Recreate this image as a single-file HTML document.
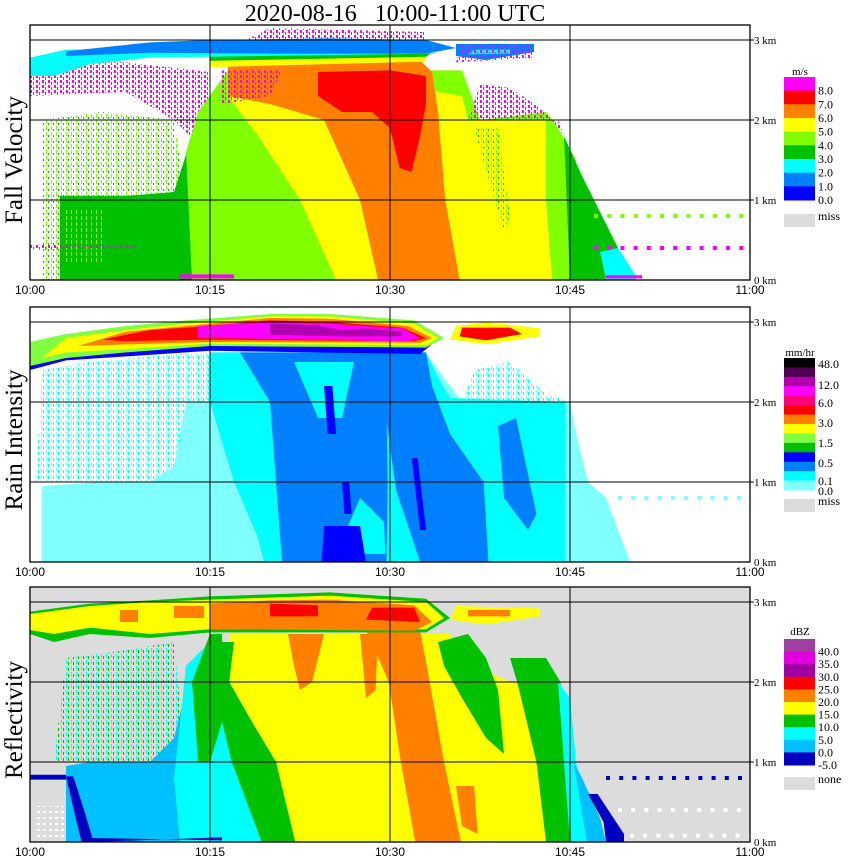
<!DOCTYPE html>
<html><head><meta charset="utf-8"><style>
html,body{margin:0;padding:0;background:#fff;}
svg{display:block;}
text{font-family:"Liberation Serif",serif;}
.tl{font-family:"Liberation Sans",sans-serif;font-size:12px;}
</style></head><body>
<svg id="chart" width="850" height="868" viewBox="0 0 850 868" xmlns="http://www.w3.org/2000/svg">
<defs>
<pattern id="spMag" width="6" height="5" patternUnits="userSpaceOnUse"><rect x="0" y="0" width="2" height="3" fill="#ff00ff"/><rect x="3" y="2" width="1" height="3" fill="#ff00ff"/></pattern>
<pattern id="spLg" width="5" height="6" patternUnits="userSpaceOnUse"><rect x="1" y="0" width="1" height="4" fill="#80ff00"/><rect x="3" y="3" width="1" height="2" fill="#00c000"/></pattern>
<pattern id="spLc" width="5" height="6" patternUnits="userSpaceOnUse"><rect x="1" y="0" width="1" height="4" fill="#80ffff"/><rect x="3" y="2" width="1" height="3" fill="#00ffff"/></pattern>
<pattern id="spCy" width="5" height="6" patternUnits="userSpaceOnUse"><rect x="1" y="0" width="1" height="4" fill="#00ffff"/><rect x="3" y="2" width="1" height="3" fill="#00c000"/></pattern>
<pattern id="spWh" width="6" height="6" patternUnits="userSpaceOnUse"><rect x="1" y="1" width="3" height="2" fill="#ffffff"/></pattern>
</defs>
<text x="395" y="21" text-anchor="middle" font-size="24" style="white-space:pre" xml:space="preserve">2020-08-16   10:00-11:00 UTC</text>
<g id="panels"></g>
</svg>
<script>
// ---------- data (time in minutes after 10:00, height in km) ----------
const timeTickLabels = ["10:00","10:15","10:30","10:45","11:00"];
const timeTickMinutes = [0,15,30,45,60];
const heightTickKm = [0,1,2,3];
const heightTickLabels = ["0 km","1 km","2 km","3 km"];

const fvColors = ["#ff00ff","#ff0000","#ff8000","#ffff00","#80ff00","#00c000","#00ffff","#0080ff","#0000ff"];
const fvLabels = ["8.0","7.0","6.0","5.0","4.0","3.0","2.0","1.0","0.0"];
const riColors = ["#000000","#500050","#b000b0","#ff00ff","#ff0080","#ff0000","#ff8000","#ffff00","#80ff40","#00c000","#0000ff","#0080ff","#00ffff","#80ffff"];
const riLabels = ["48.0","12.0","6.0","3.0","1.5","0.5","0.1","0.0"];
const riLabelY = [364,385,403,423,443,463,481,491];
const dbzColors = ["#a040a0","#e000e0","#a000a0","#ff0000","#ff8000","#ffff00","#00c000","#00ffff","#00c0ff","#0000c0"];
const dbzLabels = ["40.0","35.0","30.0","25.0","20.0","15.0","10.0","5.0","0.0","-5.0"];

const fallVelocityRegions = [
 {c:"url(#spMag)",p:[[0,2.3],[8,2.35],[12,2.0],[14,1.7],[15,1.9],[15,2.6],[8,2.72],[0,2.72]]},
 {c:"url(#spLg)",p:[[1,0],[1,2.0],[6,2.1],[12,2.0],[13,1.0],[13,0]]},
 {c:"#00c000",p:[[2.5,0],[2.5,1.05],[8,1.05],[12,1.1],[13.5,1.8],[15,2.0],[15,0]]},
 {c:"url(#spLg)",p:[[3,0.2],[3,0.9],[6,0.9],[6,0.2]]},
 {c:"#80ff00",p:[[13.5,0],[13,1.6],[14,2.1],[16.5,2.62],[36,2.62],[37.5,2.0],[43,2.1],[44,1.9],[45.5,1.5],[46,0]]},
 {c:"#00c000",p:[[44.5,1.8],[46,1.3],[47,1.0],[49,0.4],[50,0],[45,0]]},
 {c:"#00ffff",p:[[47.5,0.35],[49,0.4],[50.5,0.05],[50.5,0],[48,0]]},
 {c:"#ffff00",p:[[16.5,2.3],[18,2.5],[28,2.5],[36,2.3],[36.5,2.0],[43,2.0],[43,1.0],[43.5,0],[25.5,0],[22.5,1.0],[19,1.8]]},
 {c:"url(#spLg)",p:[[37,1.9],[39,1.9],[40,0.8],[39.5,0.6]]},
 {c:"#ff8000",p:[[16.5,2.68],[32.5,2.75],[33.5,2.6],[34,2.1],[34.6,1.0],[35.8,0],[29,0],[27.5,1.0],[24.5,2.0],[20,2.2],[16.5,2.3]]},
 {c:"#ff0000",p:[[24,2.6],[30,2.62],[33,2.55],[33,2.2],[32.5,1.8],[31.8,1.35],[30.8,1.4],[30,1.9],[28.5,2.1],[26,2.1],[24,2.3]]},
 {c:"url(#spMag)",p:[[16,2.2],[16,2.62],[21,2.62],[20,2.3]]},
 {c:"#ffff00",p:[[15,2.66],[33,2.73],[33,2.8],[15,2.75]]},
 {c:"#00c000",p:[[15,2.74],[33,2.79],[33.5,2.84],[15,2.8]]},
 {c:"#00ffff",p:[[0,2.55],[0,2.78],[3,2.88],[10,2.88],[15,2.86],[33,2.86],[34,2.83],[15,2.79],[10,2.78],[5,2.7],[2,2.55]]},
 {c:"#0080ff",p:[[3,2.86],[10,2.97],[15,3.0],[25,3.02],[33,3.0],[35.5,2.9],[33,2.83],[20,2.83],[10,2.84],[3,2.8]]},
 {c:"url(#spMag)",p:[[18,3.0],[20,3.15],[33,3.1],[33,3.0]]},
 {c:"#0080ff",p:[[35.5,2.8],[35.5,2.95],[42,2.95],[42,2.85],[38,2.75]]},
 {c:"#00ffff",p:[[36.5,2.82],[37,2.88],[40,2.88],[40,2.83]]},
 {c:"url(#spMag)",p:[[35.5,2.72],[36,2.95],[42,2.95],[42,2.78]]},
 {c:"url(#spMag)",p:[[36.5,2.0],[37.5,2.45],[40,2.4],[43,2.1],[44.5,1.8],[44,2.0]]},
 {c:"url(#spMag)",p:[[0,0.38],[9,0.38],[9,0.44],[0,0.44]]},
 {c:"#ff00ff",p:[[12.5,0.02],[17,0.02],[17,0.07],[12.5,0.07]]},
 {c:"#ff00ff",p:[[48,0.02],[51,0.02],[51,0.06],[48,0.06]]}
];
const fvDotRows = [{h:0.8,t0:47,t1:60,c:"#80ff00"},{h:0.4,t0:47,t1:60,c:"#ff00ff"}];

const rainIntensityRegions = [
 {c:"url(#spLc)",p:[[0.5,1.0],[1,2.4],[5,2.5],[12,2.6],[15,2.6],[15,1.0]]},
 {c:"#80ffff",p:[[1,0],[1,0.95],[6,1.0],[10,1.0],[12,1.2],[13,2.0],[15,2.0],[15,2.6],[33,2.6],[35,2.2],[36,2.0],[45,2.0],[45.5,1.6],[46.5,1.0],[48,0.8],[49.5,0.2],[50,0]]},
 {c:"#00ffff",p:[[15,2.62],[33,2.62],[34,2.3],[35,2.05],[44.6,2.0],[44.6,0],[19.5,0],[19,0.3],[17,1.0],[15,2.0]]},
 {c:"url(#spLc)",p:[[36,2.0],[37,2.4],[40,2.5],[43,2.1],[45,2.0]]},
 {c:"#0080ff",p:[[17.5,2.62],[29.5,2.62],[29.7,2.0],[29.8,1.0],[29.7,0],[21,0],[20.5,1.0],[20,2.0]]},
 {c:"#00ffff",p:[[22,2.5],[27,2.5],[26,1.8],[24,1.8]]},
 {c:"#00ffff",p:[[25.5,0.1],[27.5,0.8],[29.5,0.5],[29.6,0.1]]},
 {c:"#0080ff",p:[[29.5,2.62],[33,2.62],[33.5,2.2],[35,1.6],[37.8,1.0],[38.2,0],[32.5,0],[30.5,0.9],[29.5,2.0]]},
 {c:"#0080ff",p:[[39,1.7],[40.5,1.8],[42.2,0.6],[41.5,0.4],[39.5,0.8]]},
 {c:"#0000ff",p:[[24.5,2.2],[25.2,2.2],[25.5,1.6],[24.8,1.6]]},
 {c:"#0000ff",p:[[26,1.0],[26.6,1.0],[26.8,0.6],[26.2,0.6]]},
 {c:"#0000ff",p:[[24.5,0.45],[27.5,0.45],[28,0],[24.3,0]]},
 {c:"#0000ff",p:[[31.8,1.3],[32.3,1.3],[33,0.4],[32.5,0.4]]},
 {c:"#0000ff",p:[[0,2.4],[3,2.52],[15,2.64],[32.5,2.6],[33.5,2.72],[15,2.72],[3,2.6],[0,2.5]]},
 {c:"#80ff40",p:[[0,2.45],[0,2.75],[3,2.85],[8,2.95],[13,3.02],[20,3.1],[25,3.1],[32,3.02],[34.5,2.8],[33,2.68],[15,2.7],[8,2.62],[3,2.55]]},
 {c:"#ffff00",p:[[1,2.55],[3,2.8],[8,2.9],[13,2.98],[20,3.07],[25,3.07],[32,2.98],[34,2.8],[33,2.71],[15,2.73],[8,2.66],[3,2.62]]},
 {c:"#ff8000",p:[[4,2.7],[8,2.88],[13,2.95],[20,3.05],[25,3.04],[31.5,2.95],[33.5,2.8],[32.5,2.74],[15,2.75],[8,2.72]]},
 {c:"#ff0000",p:[[6,2.78],[10,2.9],[15,2.95],[20,3.02],[25,3.0],[31,2.93],[33,2.8],[32,2.76],[15,2.78],[8,2.76]]},
 {c:"#ff00ff",p:[[14,2.8],[14,2.95],[20,3.0],[25,2.98],[31,2.92],[32.5,2.8],[31.5,2.76],[15,2.8]]},
 {c:"#b000b0",p:[[20,2.84],[20,2.98],[24,2.96],[26,2.9],[28,2.92],[31,2.88],[31,2.82],[26,2.82]]},
 {c:"#ffff00",p:[[35,2.78],[35.5,2.95],[38,3.0],[42.5,2.92],[42.5,2.82],[38,2.72]]},
 {c:"#ff0000",p:[[35.8,2.82],[36,2.93],[40,2.93],[41,2.85],[38,2.77]]}
];
const riDotRows = [{h:0.8,t0:49,t1:60,c:"#80ffff"}];

const reflectivityRegions = [
 {c:"url(#spWh)",p:[[0.5,0],[0.5,0.45],[3.5,0.45],[4,0]]},
 {c:"url(#spCy)",p:[[2,1.0],[3,2.3],[8,2.4],[12,2.5],[13,1.0]]},
 {c:"#00c0ff",p:[[3,0],[3,0.95],[5,1.0],[10,1.0],[12,1.3],[13,1.9],[15,2.2],[15,0]]},
 {c:"#00ffff",p:[[12.5,0],[12,0.8],[12.5,1.5],[13,2.2],[15,2.5],[16.5,2.0],[17.5,1.0],[19.6,0]]},
 {c:"#00c000",p:[[14,1.0],[13.5,2.0],[15,2.6],[16,2.6],[16,1.5],[15,1.0]]},
 {c:"#ffff00",p:[[16.6,2.6],[35,2.6],[37,2.2],[40,2.0],[43.5,2.0],[44.5,1.0],[45.2,0],[22.1,0],[20.5,1.0],[18.5,1.5],[16.6,2.0]]},
 {c:"#00c000",p:[[15,2.5],[17,2.5],[16.6,2.0],[18.5,1.5],[20.5,1.0],[22.1,0],[19.3,0],[16.8,1.0],[15.2,2.0]]},
 {c:"#ff8000",p:[[28,2.65],[32.5,2.65],[33.3,2.0],[34.5,1.0],[35.9,0],[32.1,0],[30.9,1.0],[29.9,2.0]]},
 {c:"#ff8000",p:[[21.5,2.6],[24.5,2.6],[23.5,2.0],[22.5,1.9],[22,2.2]]},
 {c:"#ff8000",p:[[27.5,2.6],[29,2.6],[28.8,1.9],[28,1.8]]},
 {c:"#ff8000",p:[[35.5,0.7],[37,0.7],[37.3,0.1],[36,0.2]]},
 {c:"#00c000",p:[[34,2.5],[36.5,2.6],[38,2.3],[39,1.9],[39.5,1.1],[38,1.3],[36,1.8],[34.5,2.2]]},
 {c:"#00c000",p:[[40,2.3],[43,2.3],[44.2,2.0],[44.6,1.0],[45,0],[43,0],[42.2,1.0],[40.6,2.0]]},
 {c:"#00ffff",p:[[44,2.0],[45,1.8],[45.5,1.0],[46.7,0],[45,0]]},
 {c:"#00c0ff",p:[[45.3,1.0],[46,0.8],[47.5,0.3],[48,0],[46.4,0]]},
 {c:"#0000c0",p:[[46.5,0.6],[47.3,0.6],[49.5,0.1],[49.5,0],[48,0],[47.8,0.25]]},
 {c:"#0000c0",p:[[3,0.82],[3.6,0.82],[4.5,0.4],[5.2,0.05],[16,0.02],[16,0.06],[5.2,0],[4.3,0],[3.8,0.3]]},
 {c:"#0000c0",p:[[0,0.78],[3,0.78],[3,0.84],[0,0.84]]},
 {c:"url(#spCy)",p:[[3,1.0],[3,1.35],[8,1.3],[10,1.0]]},
 {c:"#00c000",p:[[0,2.6],[0,2.88],[5,2.98],[10,3.02],[15,3.07],[25,3.12],[33,3.04],[35,2.8],[33,2.62],[15,2.62],[10,2.55],[5,2.6],[2,2.5]]},
 {c:"#ffff00",p:[[0,2.65],[0,2.85],[5,2.95],[10,3.0],[15,3.03],[25,3.08],[33,3.0],[34.5,2.8],[33,2.66],[15,2.66],[10,2.6],[5,2.68],[2,2.6]]},
 {c:"#ff8000",p:[[15,2.66],[15,2.98],[20,3.02],[25,3.03],[32,2.96],[33.5,2.75],[32,2.64]]},
 {c:"#ff8000",p:[[7.5,2.75],[7.5,2.9],[9,2.9],[9,2.75]]},
 {c:"#ff8000",p:[[12,2.8],[12,2.95],[14.5,2.95],[14.5,2.8]]},
 {c:"#ff0000",p:[[20,2.82],[20,2.98],[24,2.96],[24,2.82]]},
 {c:"#ff0000",p:[[28,2.78],[28.5,2.93],[32,2.93],[32.5,2.75]]},
 {c:"#ffff00",p:[[35,2.78],[35.5,2.95],[42.5,2.92],[42.5,2.82],[38,2.72]]},
 {c:"#ff8000",p:[[36.5,2.82],[36.5,2.9],[40,2.9],[40,2.82]]}
];
const dbzDotRows = [{h:0.8,t0:48,t1:60,c:"#0000c0"},{h:0.4,t0:49,t1:60,c:"#ffffff"},{h:0.08,t0:50,t1:60,c:"#ffffff"}];

// ---------- layout ----------
const panels = [
 {name:"fall-velocity",title:"Fall Velocity",top:25,bg:"#ffffff",regions:fallVelocityRegions,dots:fvDotRows,titleY:160},
 {name:"rain-intensity",title:"Rain Intensity",top:307,bg:"#ffffff",regions:rainIntensityRegions,dots:riDotRows,titleY:440},
 {name:"reflectivity",title:"Reflectivity",top:587,bg:"#dcdcdc",regions:reflectivityRegions,dots:dbzDotRows,titleY:720}
];
const X0=30, X1=750, PH=255, KM=80;
function xs(t){return X0+t*(X1-X0)/60;}
const NS="http://www.w3.org/2000/svg";
const root=document.getElementById("panels");
function mk(tag,attrs,parent){const e=document.createElementNS(NS,tag);for(const k in attrs)e.setAttribute(k,attrs[k]);(parent||root).appendChild(e);return e;}

panels.forEach(function(P){
 const bottom=P.top+PH;
 function ys(h){return bottom-h*KM;}
 const g=mk("g",{});
 
 
 const clipId="clip-"+P.name;
 const cp=mk("clipPath",{id:clipId},g);
 mk("rect",{x:X0,y:P.top,width:X1-X0,height:PH},cp);
 const bg=mk("rect",{x:X0,y:P.top,width:X1-X0,height:PH,fill:P.bg},g);
 
 
 const dg=mk("g",{"clip-path":"url(#"+clipId+")"},g);
 P.regions.forEach(function(r,i){
  const pg=mk("polygon",{points:r.p.map(q=>xs(q[0]).toFixed(1)+","+ys(q[1]).toFixed(1)).join(" "),fill:r.c},dg);
  
  
 });
 P.dots.forEach(function(d){
  for(let t=d.t0;t<d.t1;t+=1.1){
   const rr=mk("rect",{x:xs(t),y:ys(d.h)-2,width:4,height:4,fill:d.c},dg);
   
   
  }
 });
 timeTickMinutes.slice(1,4).forEach(function(t){
  const l=mk("line",{x1:xs(t),x2:xs(t),y1:P.top,y2:bottom,stroke:"#000","stroke-width":1},g);
  
  
 });
 heightTickKm.forEach(function(h,i){
  if(h>0){
   const l=mk("line",{x1:X0,x2:X1+4,y1:ys(h),y2:ys(h),stroke:"#000","stroke-width":1},g);
   
   
  }
  const tx=mk("text",{x:X1+4,y:ys(h)+4,"font-size":11},g);
  tx.textContent=heightTickLabels[i];
  
  
 });
 const fr=mk("rect",{x:X0,y:P.top,width:X1-X0,height:PH,fill:"none",stroke:"#000","stroke-width":1.3},g);
 
 
 timeTickMinutes.forEach(function(t,i){
  const tx=mk("text",{x:xs(t),y:bottom+14,"text-anchor":"middle",class:"tl"},g);
  tx.textContent=timeTickLabels[i];
  
  
 });
 const yt=mk("text",{x:0,y:0,"font-size":25,"text-anchor":"middle",transform:"translate(22,"+P.titleY+") rotate(-90)"},g);
 yt.textContent=P.title;
 
 
});

// ---------- legends ----------
function legend(name,unit,unitY,colors,y0,y1,labels,labelY,missY,missText){
 const g=mk("g",{});
 
 
 const u=mk("text",{x:800,y:unitY,"font-size":11,"text-anchor":"middle"},g);
 u.textContent=unit;
 
 
 const bh=(y1-y0)/colors.length;
 colors.forEach(function(c,i){
  const r=mk("rect",{x:784,y:y0+i*bh,width:31,height:bh+0.5,fill:c},g);
  
  
 });
 labels.forEach(function(l,i){
  const t=mk("text",{x:818,y:labelY[i]+4,"font-size":12},g);
  t.textContent=l;
  
  
 });
 const m=mk("rect",{x:784,y:missY,width:31,height:13,fill:"#dcdcdc"},g);
 
 
 const mt=mk("text",{x:818,y:missY+6,"font-size":12},g);
 mt.textContent=missText;
 
 
}
legend("fall-velocity","m/s",75,fvColors,77,200,fvLabels,fvLabels.map((l,i)=>77+(i+1)*123/9),214,"miss");
legend("rain-intensity","mm/hr",356,riColors,358,490,riLabels,riLabelY,499,"miss");
legend("reflectivity","dBZ",635,dbzColors,639,765,dbzLabels,dbzLabels.map((l,i)=>639+(i+1)*12.6),777,"none");
</script>
</body></html>
